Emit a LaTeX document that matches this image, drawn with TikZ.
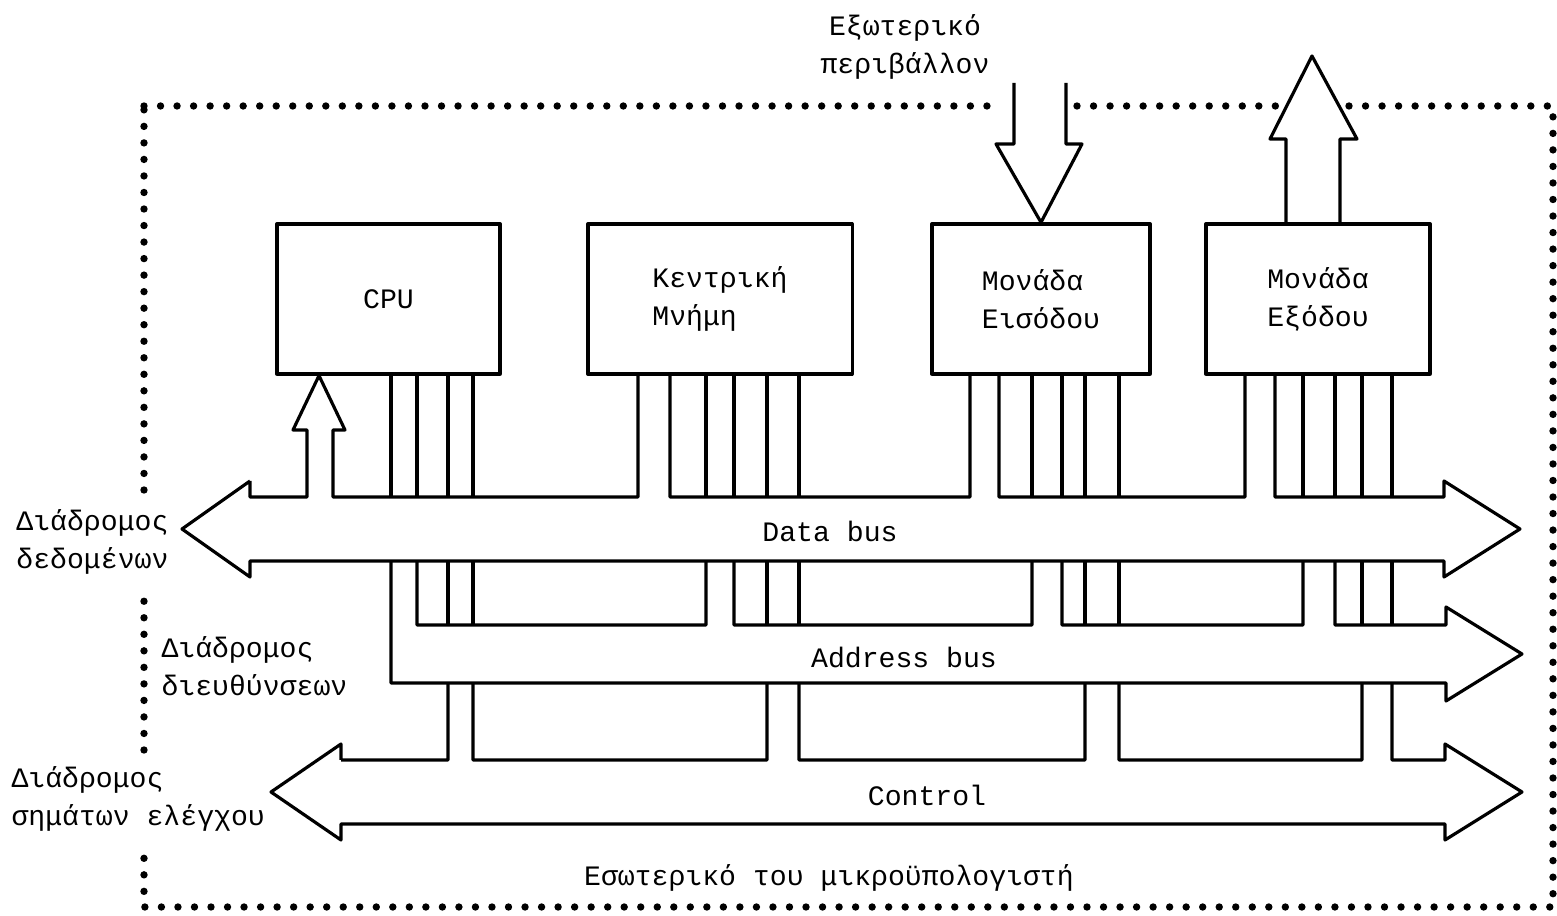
\documentclass[tikz,border=0pt]{standalone}
\usepackage{fontspec}
\setmonofont{Liberation Mono}
\usepackage{tikz}
\usetikzlibrary{calc}

\begin{document}
\begin{tikzpicture}[x=0.01cm,y=-0.01cm,line join=round,line width=0.9pt,
  font=\ttfamily\fontsize{8pt}{10.8pt}\selectfont,
  unit/.style={draw,line width=0.9pt,minimum height=1.5cm,inner sep=0pt,align=left},
  lbl/.style={inner sep=0pt},
  dotrow/.style={line width=2.1pt,line cap=round,dash pattern=on 0pt off 4.7pt}]
  \useasboundingbox (0,0) rectangle (1557,916);
  % units
  \node[unit,minimum width=2.23cm] (cpu) at (388.5,299) {CPU};
  \node[unit,minimum width=2.64cm] (mem) at (720,299) {Κεντρική\\Μνήμη};
  \node[unit,minimum width=2.18cm] (inp) at (1041,299) {Μονάδα\\Εισόδου};
  \node[unit,minimum width=2.24cm] (outp) at (1318,299) {Μονάδα\\Εξόδου};
  % data bus
  \draw (250,481) -- (182,529) -- (250,577) -- (250,561) -- (1444,561) -- (1444,577) -- (1520,529) -- (1444,481) -- (1444,497) -- (1275,497) -- (1275,374)
    (1245,374) -- (1245,497) -- (999,497) -- (999,374)
    (970,374) -- (970,497) -- (670,497) -- (670,374)
    (638,374) -- (638,497) -- (333,497) -- (333,430) -- (345,430) -- (cpu.south -| 319,0) -- (293,430) -- (307,430) -- (307,497) -- (250,497) -- (250,481);
  % address bus
  \draw (417,561) -- (417,625) -- (706,625) -- (706,561)
    (734,561) -- (734,625) -- (1032,625) -- (1032,561)
    (1062,561) -- (1062,625) -- (1303,625) -- (1303,561)
    (1335,561) -- (1335,625) -- (1446,625) -- (1446,607) -- (1522,654) -- (1446,701) -- (1446,683) -- (391,683) -- (391,561);
  % control bus
  \draw (341,760) -- (448,760) -- (448,683)
    (473,683) -- (473,760) -- (767,760) -- (767,683)
    (799,683) -- (799,760) -- (1085,760) -- (1085,683)
    (1119,683) -- (1119,760) -- (1362,760) -- (1362,683)
    (1392,683) -- (1392,760) -- (1445,760) -- (1445,744) -- (1522,792) -- (1445,840) -- (1445,824) -- (341,824) -- (341,840) -- (271,792) -- (341,744) -- (341,760);
  \foreach \x in {391,417,448,473,706,734,767,799,1032,1062,1085,1119,1303,1335,1362,1392}
    \draw (\x,374) -- (\x,497);
  \foreach \x in {448,473,767,799,1085,1119,1362,1392}
    \draw (\x,561) -- (\x,625);
  % outside arrows
  \draw (1014,83) -- (1014,144) -- (996,144) -- (inp.north) -- (1082,144) -- (1066,144) -- (1066,83);
  \draw (1286,224) -- (1286,139) -- (1270,139) -- (1312,56) -- (1357,139) -- (1340,139) -- (1340,224);
  % border
  \draw[dotrow] (144,106) -- (1003,106);
  \draw[dotrow] (1077,106) -- (1280,106);
  \draw[dotrow] (1349,106) -- (1553,106) -- (1553,907) -- (144,907) -- (144,845);
  \draw[dotrow] (144,750) -- (144,585);
  \draw[dotrow] (144,490) -- (144,106);
  % texts
  \node[lbl] (tdata) at (830,531) {Data bus};
  \node[lbl] (taddr) at (904,657) {Address bus};
  \node[lbl] (tctrl) at (927,795) {Control};
  \node[lbl,anchor=east,align=right] (ldata) at (170,542) {Διάδρομος\\δεδομένων};
  \node[lbl,anchor=west,align=left] (laddr) at (160,666) {Διάδρομος\\διευθύνσεων};
  \node[lbl,anchor=west,align=left] (lctrl) at (10,799) {Διάδρομος\\σημάτων ελέγχου};
  \node[lbl,align=center] (lext) at (905,47) {Εξωτερικό\\περιβάλλον};
  \node[lbl] (lint) at (829,878) {Εσωτερικό του μικροϋπολογιστή};
\end{tikzpicture}
\end{document}
